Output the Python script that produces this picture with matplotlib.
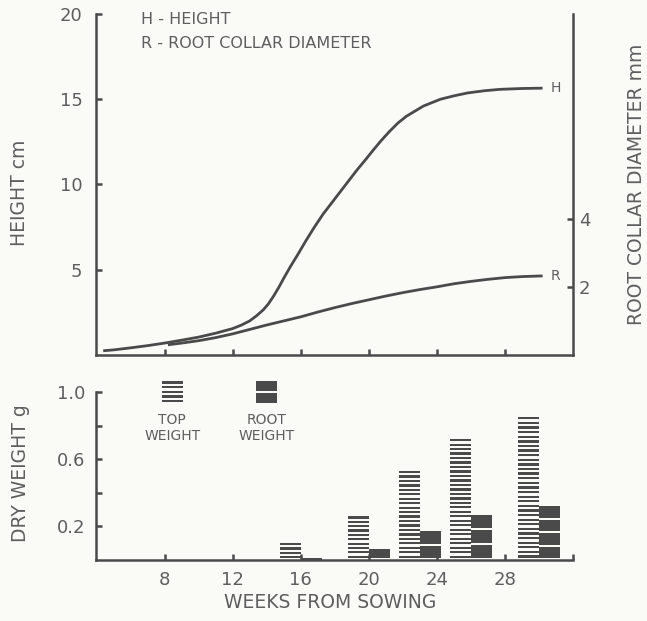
import numpy as np
import matplotlib
matplotlib.use("Agg")
import matplotlib.pyplot as plt

# height curve (weeks, cm)
h_weeks = [4.4, 5, 6, 7, 8, 9, 10, 11, 12, 12.5, 13, 13.4, 13.8, 14.1, 14.4, 14.7,
           15.0, 15.4, 15.8, 16.3, 16.8, 17.3, 17.8, 18.3, 18.8, 19.3, 19.8, 20.2,
           20.7, 21.2, 21.7, 22.2, 22.7, 23.2, 23.7, 24.2, 25.0, 25.8, 26.8, 27.7,
           29.0, 30.2]
h_cm = [0.25, 0.3, 0.42, 0.55, 0.7, 0.87, 1.05, 1.28, 1.55, 1.75, 2.0, 2.3, 2.65,
        3.0, 3.45, 3.95, 4.5, 5.2, 5.85, 6.7, 7.5, 8.25, 8.9, 9.55, 10.2, 10.85,
        11.45, 11.95, 12.55, 13.1, 13.6, 14.0, 14.3, 14.6, 14.8, 15.0, 15.2, 15.37,
        15.5, 15.58, 15.63, 15.65]

# root collar diameter curve (weeks, mm)
r_weeks = [8.2, 9, 10, 11, 12, 13, 14, 15, 16, 17, 18, 19, 20, 21, 22, 23, 24,
           25, 26, 27, 28, 29, 30.2]
r_mm = [0.3, 0.35, 0.42, 0.51, 0.62, 0.75, 0.88, 1.0, 1.12, 1.26, 1.39, 1.51, 1.62,
        1.73, 1.83, 1.92, 2.0, 2.09, 2.16, 2.22, 2.27, 2.3, 2.32]

# dry weights (g) at each harvest
harvest_weeks = [16, 20, 23, 26, 30]
top_weight = [0.10, 0.26, 0.53, 0.72, 0.85]
root_weight = [0.01, 0.065, 0.17, 0.27, 0.32]

INK = "#4a4a4a"
TXT = "#5e5e5e"
BG = "#fafaf7"
BAR_W = 1.24

plt.rcParams["font.family"] = ["DejaVu Sans"]


def striped_bar(ax, x, top, period, ink, bottom=0.0, **kw):
    # draw a bar as a stack of dark bands separated by thin white gaps
    n = max(1, int(round((top - bottom) / period)))
    step = (top - bottom) / n
    lows = bottom + step * np.arange(n) + step * (1 - ink)
    ax.bar(np.full(n, x), np.full(n, step * ink), width=BAR_W, bottom=lows,
           color=INK, linewidth=0, **kw)


fig = plt.figure(figsize=(6.47, 6.21), dpi=100, facecolor=BG)

# ---- upper panel: height and root collar diameter
ax = fig.add_axes([0.149, 0.4283, 0.737, 0.5492], facecolor=BG)
ax2 = ax.twinx()
ax.plot(h_weeks, h_cm, color=INK, lw=2.0, solid_capstyle="butt", solid_joinstyle="round")
ax2.plot(r_weeks, r_mm, color=INK, lw=2.0, solid_capstyle="butt", solid_joinstyle="round")
ax.set_xlim(4, 32)
ax.set_ylim(0, 20)
ax2.set_ylim(0, 10)
ax.set_xticks([8, 12, 16, 20, 24, 28])
ax.set_xticklabels([])
ax.set_yticks([5, 10, 15, 20])
ax2.set_yticks([2, 4])

for a in (ax, ax2):
    for s in a.spines.values():
        s.set_color(INK)
        s.set_linewidth(1.8)
    a.spines["top"].set_visible(False)
ax.spines["right"].set_visible(False)
ax2.spines["left"].set_visible(False)
ax2.spines["bottom"].set_visible(False)
ax.tick_params(direction="in", length=4, width=1.8, color=INK, labelsize=13,
               labelcolor=TXT, pad=10)
ax2.tick_params(direction="in", length=4, width=1.8, color=INK, labelsize=13,
                labelcolor=TXT, pad=4)

ax.annotate("H", (h_weeks[-1], h_cm[-1]), xytext=(6, 0), textcoords="offset points",
            va="center", ha="left", fontsize=10, color=TXT)
ax2.annotate("R", (r_weeks[-1], r_mm[-1]), xytext=(6, 0), textcoords="offset points",
             va="center", ha="left", fontsize=10, color=TXT)
ax.text(0.0945, 0.985, "H - HEIGHT", transform=ax.transAxes, fontsize=11.5,
        color=TXT, va="center", ha="left")
ax.text(0.0945, 0.912, "R - ROOT COLLAR DIAMETER", transform=ax.transAxes,
        fontsize=11.5, color=TXT, va="center", ha="left")

# ---- lower panel: dry weights
bx = fig.add_axes([0.149, 0.0982, 0.737, 0.2706], facecolor=BG)
for wk, tw, rw in zip(harvest_weeks, top_weight, root_weight):
    striped_bar(bx, wk - BAR_W / 2, tw, 0.027, 0.5)
    striped_bar(bx, wk + BAR_W / 2, rw, 0.085, 0.85)

bx.set_xlim(4, 32)
bx.set_ylim(0, 1.0)
bx.set_xticks([8, 12, 16, 20, 24, 28])
bx.set_xticks([32], minor=True)
bx.set_yticks([0.2, 0.6, 1.0])
bx.set_yticklabels(["0.2", "0.6", "1.0"])
bx.set_yticks([0.4, 0.8], minor=True)
for side in ("top", "right"):
    bx.spines[side].set_visible(False)
for side in ("left", "bottom"):
    bx.spines[side].set_color(INK)
    bx.spines[side].set_linewidth(1.8)
bx.tick_params(which="both", direction="in", length=4, width=1.8, color=INK,
               labelsize=13, labelcolor=TXT, pad=8)

# legend keys above the bars
striped_bar(bx, 8.45, 1.063, 0.027, 0.5, bottom=0.925, clip_on=False)
striped_bar(bx, 14.0, 1.063, 0.07, 0.85, bottom=0.925, clip_on=False)
bx.text(8.45, 0.785, "TOP\nWEIGHT", ha="center", va="center", fontsize=10,
        color=TXT, linespacing=1.15)
bx.text(14.0, 0.785, "ROOT\nWEIGHT", ha="center", va="center", fontsize=10,
        color=TXT, linespacing=1.15)

# axis titles
fig.text(0.030, 0.689, "HEIGHT cm", rotation=90, ha="center", va="center",
         fontsize=13.5, color=TXT)
fig.text(0.031, 0.238, "DRY WEIGHT g", rotation=90, ha="center", va="center",
         fontsize=13.5, color=TXT)
fig.text(0.984, 0.704, "ROOT COLLAR DIAMETER mm", rotation=90, ha="center",
         va="center", fontsize=13.5, color=TXT)
fig.text(0.51, 0.029, "WEEKS FROM SOWING", ha="center", va="center",
         fontsize=13.5, color=TXT)

fig.savefig("out.png", dpi=100, facecolor=BG)
